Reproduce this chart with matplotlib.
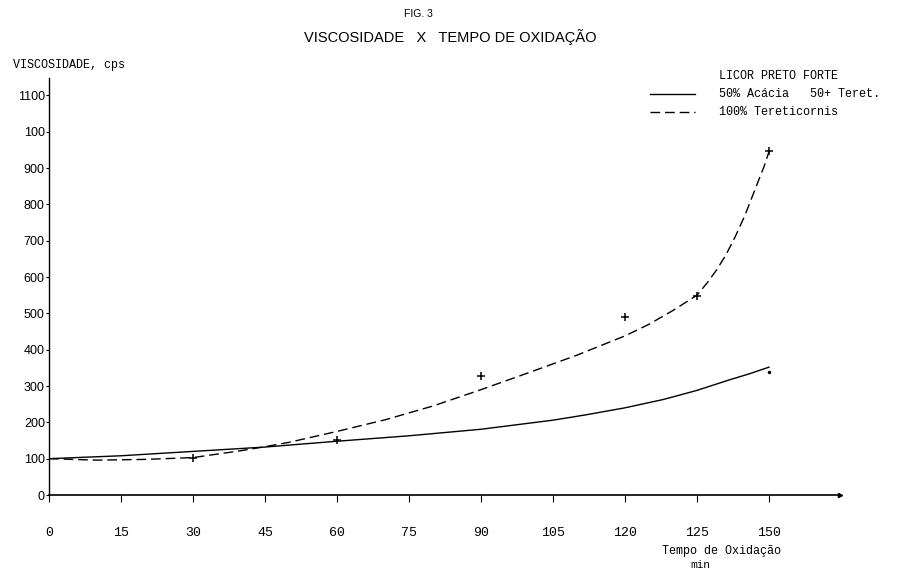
import matplotlib
matplotlib.use('Agg')
import matplotlib.pyplot as plt
from matplotlib.lines import Line2D

# values
t_acacia = [0, 15, 30, 45, 60, 75, 90, 105, 112, 120, 128, 135, 142, 146, 150]
v_acacia = [100, 108, 120, 132, 148, 163, 181, 206, 221, 240, 263, 288, 318, 334, 352]

t_teret = [0, 10, 20, 30, 40, 45, 50, 60, 70, 80, 90, 100, 110, 120, 125, 130,
           135, 137, 139, 141, 143, 145, 147, 149, 150]
v_teret = [100, 96, 98, 103, 122, 133, 145, 175, 207, 245, 290, 337, 385, 438,
           470, 508, 550, 582, 618, 660, 712, 770, 838, 905, 945]

# measured points (+)
t_pts = [30, 60, 90, 120, 135, 150]
v_pts = [102, 151, 327, 489, 548, 947]
t_dot = [150]
v_dot = [338]

x_ticks = [0, 15, 30, 45, 60, 75, 90, 105, 120, 135, 150]
x_labels = ['0', '15', '30', '45', '60', '75', '90', '105', '120', '125', '150']
y_ticks = [0, 100, 200, 300, 400, 500, 600, 700, 800, 900, 1000, 1100]
y_labels = ['0', '100', '200', '300', '400', '500', '600', '700', '800', '900', '100', '1100']

W, H = 897, 571
mono = ['Liberation Mono', 'DejaVu Sans Mono']
sans = ['Liberation Sans', 'DejaVu Sans']

fig = plt.figure(figsize=(W / 100, H / 100), dpi=100)
ax = fig.add_axes([49 / W, 1 - 495 / H, (840 - 49) / W, (495 - 78) / H])

ax.plot(t_acacia, v_acacia, color='black', linewidth=1.0)
ax.plot(t_teret, v_teret, color='black', linewidth=1.0, dashes=(7, 3.5))
ax.plot(t_pts, v_pts, '+', color='black', markersize=6, markeredgewidth=1.1)
ax.plot(t_dot, v_dot, '.', color='black', markersize=3)

ax.set_xlim(0, 164.8)
ax.set_ylim(0, 1148)
for s in ['top', 'right']:
    ax.spines[s].set_visible(False)
ax.spines['left'].set_linewidth(1.0)
ax.spines['bottom'].set_linewidth(1.2)
ax.plot([1], [0], marker='>', markersize=3, color='black',
        transform=ax.transAxes, clip_on=False)

ax.set_xticks(x_ticks)
ax.set_xticklabels(x_labels, fontfamily=mono, fontsize=9.5)
ax.set_yticks(y_ticks)
ax.set_yticklabels(y_labels, fontfamily=sans, fontsize=9)
ax.tick_params(axis='x', direction='out', length=5, width=0.8, pad=18)
ax.tick_params(axis='y', direction='out', length=2, width=0.8, pad=1)


def fx(px):
    return px / W


def fy(py):
    return 1 - py / H


fig.text(fx(418), fy(14), 'FIG. 3', ha='center', va='center',
         fontfamily=sans, fontsize=7.5)
fig.text(fx(450), fy(37), 'VISCOSIDADE   X   TEMPO DE OXIDAÇÃO', ha='center',
         va='center', fontfamily=sans, fontsize=10.5)
fig.text(fx(13), fy(65), 'VISCOSIDADE, cps', ha='left', va='center',
         fontfamily=mono, fontsize=8.5)

# legend, drawn by hand as on the original
fig.text(fx(719), fy(76), 'LICOR PRETO FORTE', ha='left', va='center',
         fontfamily=mono, fontsize=8.5)
fig.add_artist(Line2D([fx(650), fx(695)], [fy(94), fy(94)], color='black',
                      linewidth=1.0))
fig.text(fx(719), fy(94), '50% Acácia   50+ Teret.', ha='left', va='center',
         fontfamily=mono, fontsize=8.5)
fig.add_artist(Line2D([fx(650), fx(695)], [fy(112), fy(112)], color='black',
                      linewidth=1.0, dashes=(7, 3.5)))
fig.text(fx(719), fy(112), '100% Tereticornis', ha='left', va='center',
         fontfamily=mono, fontsize=8.5)

fig.text(fx(722), fy(551), 'Tempo de Oxidação', ha='center', va='center',
         fontfamily=mono, fontsize=8.5)
fig.text(fx(700), fy(565), 'min', ha='center', va='center',
         fontfamily=mono, fontsize=8)

fig.savefig('out.png', dpi=100, facecolor='white')
